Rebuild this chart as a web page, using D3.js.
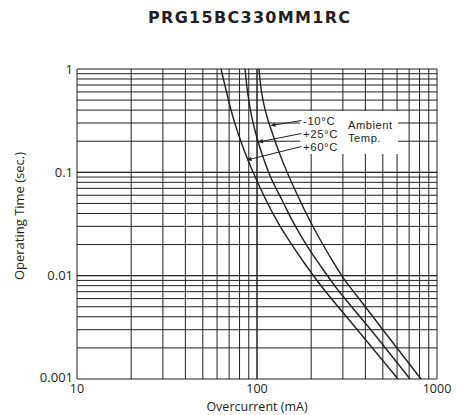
<!DOCTYPE html>
<html><head><meta charset="utf-8">
<script src="https://cdn.jsdelivr.net/npm/d3@7"></script>
<style>body{margin:0;background:#fff}svg{display:block}</style>
</head><body>
<svg id="c" width="457" height="415"></svg>
<script>
const title = "PRG15BC330MM1RC";
const xTickValues = [10, 100, 1000];
const xTickLabels = ["10", "100", "1000"];
const yTickValues = [1, 0.1, 0.01, 0.001];
const yTickLabels = ["1", "0.1", "0.01", "0.001"];
const xLabel = "Overcurrent (mA)";
const yLabel = "Operating Time (sec.)";
const seriesNames = ["-10°C", "+25°C", "+60°C"];
// [current mA, time s]
const curveMinus10 = [[102.6,1],[105.2,0.655],[109.4,0.448],[115.1,0.3209],[122.7,0.2298],[132.5,0.1573],[146.8,0.1007],[164.7,0.0645],[187.2,0.0404],[215.4,0.0253],[251.2,0.01585],[296.6,0.00992],[359.4,0.00635],[815,0.001]];
const curvePlus25 = [[85.8,1],[89.1,0.560],[93.8,0.3356],[100,0.2149],[108,0.1407],[119.6,0.0881],[137.7,0.054],[158.5,0.0331],[189.6,0.0194],[229.7,0.01186],[281.8,0.00726],[429.9,0.00298],[707.9,0.001]];
const curvePlus60 = [[63.1,1],[67.3,0.626],[71.7,0.401],[77.4,0.2568],[84.7,0.1645],[95.0,0.1007],[109.4,0.0590],[127.5,0.0353],[152.5,0.0212],[184.8,0.01297],[229.7,0.00777],[373.4,0.00279],[607.4,0.001]];
// arrow targets on the curves [mA, s]
const arrowTargets = [[119.6,0.2839],[101.9,0.1966],[88.0,0.1316]];
const ambientLabel = ["Ambient", "Temp."];

const svg = d3.select("#c");
const ink = "#231f20";
const x = d3.scaleLog().domain([10, 1000]).range([77, 437]);
const y = d3.scaleLog().domain([0.001, 1]).range([379, 69]);

// grid
const xGrid = [];
for (let d = 10; d < 1000; d *= 10) for (let k = 1; k <= 10; k++) xGrid.push(d * k);
const yGrid = [];
for (let d = 0.001; d < 0.9; d *= 10) for (let k = 1; k <= 10; k++) yGrid.push(d * k);
const g = svg.append("g");
g.selectAll(".vx").data(xGrid).enter().append("line")
  .attr("x1", d => x(d)).attr("x2", d => x(d)).attr("y1", y(1)).attr("y2", y(0.001))
  .attr("stroke", ink).attr("stroke-width", 1);
g.selectAll(".hy").data(yGrid).enter().append("line")
  .attr("y1", d => y(d)).attr("y2", d => y(d)).attr("x1", x(10)).attr("x2", x(1000))
  .attr("stroke", ink).attr("stroke-width", 1);

// curves
const line = d3.line().x(d => x(d[0])).y(d => y(d[1])).curve(d3.curveCatmullRom.alpha(0.5));
[curveMinus10, curvePlus25, curvePlus60].forEach(c => {
  svg.append("path").attr("d", line(c)).attr("fill", "none")
    .attr("stroke", ink).attr("stroke-width", 1.4);
});

// label box
const lx = 301.5, ly = [120.5, 133.5, 146.5];
svg.append("rect").attr("x", 300).attr("y", 111).attr("width", 98).attr("height", 43).attr("fill", "#fff");
svg.append("defs").append("marker").attr("id", "ah").attr("viewBox", "0 0 10 10")
  .attr("refX", 10).attr("refY", 5).attr("markerWidth", 7).attr("markerHeight", 4.5)
  .attr("orient", "auto").append("path").attr("d", "M0,0L10,5L0,10z").attr("fill", ink);
arrowTargets.forEach((a, i) => {
  svg.append("line").attr("x1", lx).attr("y1", ly[i]).attr("x2", x(a[0])).attr("y2", y(a[1]))
    .attr("stroke", ink).attr("stroke-width", 1).attr("marker-end", "url(#ah)");
});
const font = "'Open Sans', sans-serif";
const lfont = "'Liberation Sans', Arial, sans-serif";
seriesNames.forEach((s, i) => {
  svg.append("text").attr("x", 303).attr("y", 124.5 + i * 13.2).text(s)
    .attr("font-family", lfont).attr("font-size", 11.4).attr("letter-spacing", 0.6).attr("fill", ink);
});
ambientLabel.forEach((s, i) => {
  svg.append("text").attr("x", 348).attr("y", 128.5 + i * 13).text(s)
    .attr("font-family", lfont).attr("font-size", 11.2).attr("letter-spacing", 0.5).attr("fill", ink);
});

// axes labels
svg.selectAll(".xt").data(xTickValues).enter().append("text")
  .attr("x", d => x(d)).attr("y", 393).attr("text-anchor", "middle")
  .text((d, i) => xTickLabels[i]).attr("font-family", font).attr("font-size", 12.5).attr("fill", ink);
svg.selectAll(".yt").data(yTickValues).enter().append("text")
  .attr("x", 73).attr("y", d => y(d) + (d === 0.001 ? 3 : 4.5)).attr("text-anchor", "end")
  .text((d, i) => yTickLabels[i]).attr("font-family", font).attr("font-size", 13).attr("fill", ink);
svg.append("text").attr("x", 257).attr("y", 410.5).attr("text-anchor", "middle").text(xLabel)
  .attr("font-family", font).attr("font-size", 12.5).attr("fill", ink);
svg.append("text").attr("transform", "translate(24,216) rotate(-90)").attr("text-anchor", "middle")
  .text(yLabel).attr("font-family", font).attr("font-size", 13).attr("fill", ink);
svg.append("text").attr("x", 249).attr("y", 23).attr("text-anchor", "middle").text(title)
  .attr("font-family", "'DejaVu Sans', sans-serif").attr("font-weight", "bold").attr("font-size", 16)
  .attr("textLength", 202).attr("lengthAdjust", "spacing").attr("fill", ink);
</script>
</body></html>
